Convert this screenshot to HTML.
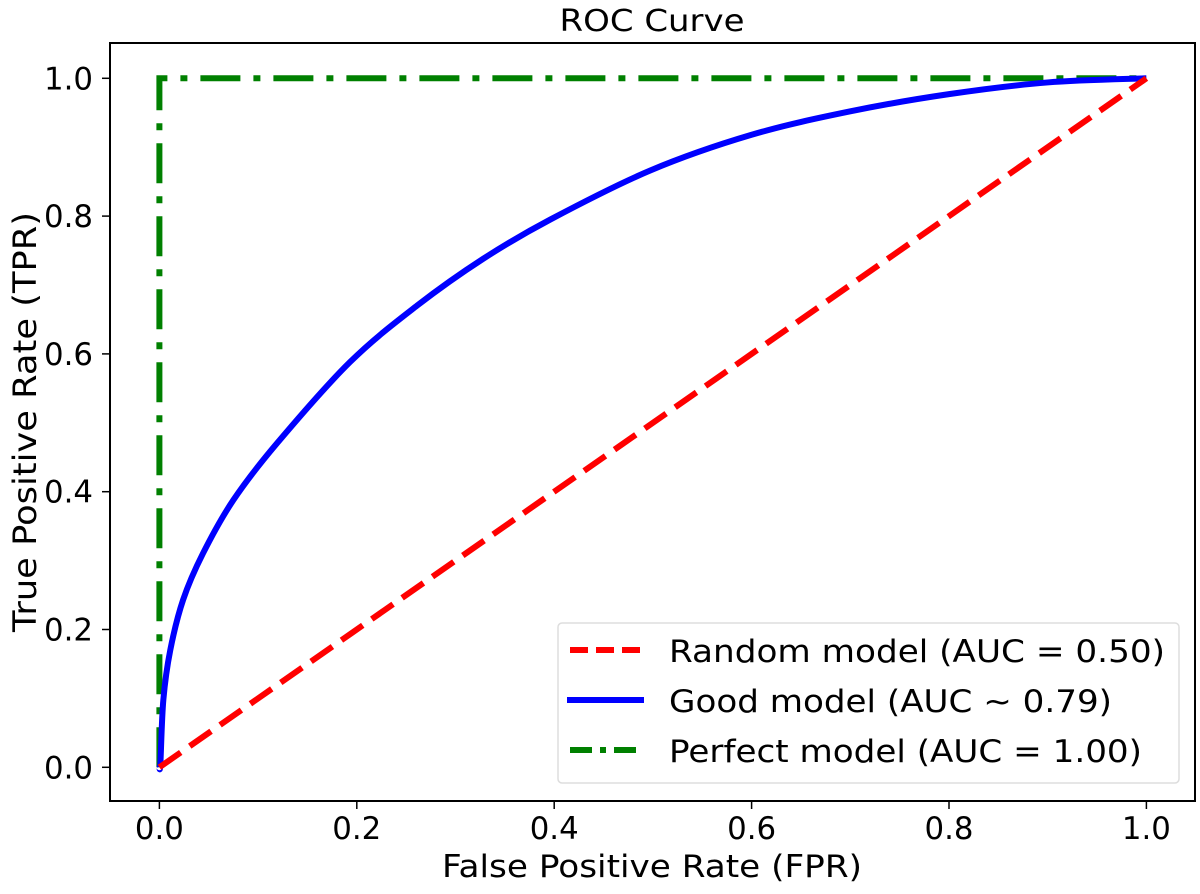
<!DOCTYPE html>
<html><head><meta charset="utf-8"><style>
html,body{margin:0;padding:0;background:#fff;}
svg text{font-family:"DejaVu Sans","Liberation Sans",sans-serif;fill:#000;}
</style></head><body>
<svg id="chart" width="1200" height="889" viewBox="0 0 1200 889" xmlns="http://www.w3.org/2000/svg">
<rect x="0" y="0" width="1200" height="889" fill="#fff"/>
<text x="652" y="31" font-size="30" text-anchor="middle" textLength="185" lengthAdjust="spacingAndGlyphs">ROC Curve</text>
<g id="plot"></g>
<rect x="110" y="43" width="1085" height="758" fill="none" stroke="#000" stroke-width="2"/>
<g id="ticks"></g>
<text x="652" y="877" font-size="31" text-anchor="middle" textLength="420" lengthAdjust="spacingAndGlyphs">False Positive Rate (FPR)</text>
<text x="0" y="0" font-size="32" text-anchor="middle" textLength="420" lengthAdjust="spacingAndGlyphs" transform="translate(36,422) rotate(-90)">True Positive Rate (TPR)</text>
<g>
<rect x="558" y="623" width="621" height="160" rx="4" fill="#fff" fill-opacity="0.8" stroke="#ddd" stroke-width="1.5"/>
<line x1="570" y1="650" x2="642" y2="650" stroke="#f00" stroke-width="6" stroke-dasharray="18,8"/>
<text x="669" y="662" font-size="31" textLength="496" lengthAdjust="spacingAndGlyphs">Random model (AUC = 0.50)</text>
<line x1="567" y1="700" x2="644" y2="700" stroke="#00f" stroke-width="6"/>
<text x="669" y="712" font-size="31" textLength="443" lengthAdjust="spacingAndGlyphs">Good model (AUC ~ 0.79)</text>
<line x1="570" y1="750" x2="642" y2="750" stroke="#008000" stroke-width="6" stroke-dasharray="22,8,6,8"/>
<text x="669" y="762" font-size="31" textLength="473" lengthAdjust="spacingAndGlyphs">Perfect model (AUC = 1.00)</text>
</g>
</svg>
<script>
const xTicks = [0, 0.2, 0.4, 0.6, 0.8, 1.0];
const yTicks = [0, 0.2, 0.4, 0.6, 0.8, 1.0];
const tickLabels = ["0.0", "0.2", "0.4", "0.6", "0.8", "1.0"];
const randomFpr = [0, 1];
const randomTpr = [0, 1];
const goodFpr = [0, 0.001, 0.004, 0.011, 0.024, 0.044, 0.075, 0.119, 0.193, 0.261, 0.328, 0.396, 0.497, 0.6, 0.7, 0.8, 0.9, 1.0];
const goodTpr = [0, 0.006, 0.098, 0.170, 0.243, 0.31, 0.388, 0.47, 0.588, 0.67, 0.738, 0.795, 0.866, 0.918, 0.952, 0.977, 0.994, 1.0];
const perfectFpr = [0, 0, 1];
const perfectTpr = [0, 1, 1];

const NS = "http://www.w3.org/2000/svg";
function xs(v){ return 159.4 + v * 987; }
function ys(v){ return 767.3 - v * 689; }
const plot = document.getElementById('plot');
const ticks = document.getElementById('ticks');

function mk(tag, attrs, parent){
  const e = document.createElementNS(NS, tag);
  for (const k in attrs) e.setAttribute(k, attrs[k]);
  parent.appendChild(e);
  return e;
}

xTicks.forEach((t, i) => {
  const l = mk('line', {x1: xs(t), x2: xs(t), y1: 801, y2: 809, stroke: '#000', 'stroke-width': 1.5}, ticks);
  
  
  const tx = mk('text', {x: xs(t), y: 839, 'font-size': 31, 'text-anchor': 'middle', textLength: 49, lengthAdjust: 'spacingAndGlyphs'}, ticks);
  tx.textContent = tickLabels[i];
  
  
});
yTicks.forEach((t, i) => {
  const l = mk('line', {x1: 102, x2: 110, y1: ys(t), y2: ys(t), stroke: '#000', 'stroke-width': 1.5}, ticks);
  
  
  const tx = mk('text', {x: 93, y: ys(t) + 11, 'font-size': 31, 'text-anchor': 'end', textLength: 49, lengthAdjust: 'spacingAndGlyphs'}, ticks);
  tx.textContent = tickLabels[i];
  
  
});

function smoothPath(X, Y){
  const p = X.map((x, i) => [xs(x), ys(Y[i])]);
  let d = 'M' + p[0][0] + ',' + p[0][1];
  for (let i = 0; i < p.length - 1; i++){
    const p0 = p[Math.max(0, i - 1)], p1 = p[i], p2 = p[i + 1], p3 = p[Math.min(p.length - 1, i + 2)];
    const c1 = [p1[0] + (p2[0] - p0[0]) / 6, p1[1] + (p2[1] - p0[1]) / 6];
    const c2 = [p2[0] - (p3[0] - p1[0]) / 6, p2[1] - (p3[1] - p1[1]) / 6];
    d += ' C' + c1 + ' ' + c2 + ' ' + p2;
  }
  return d;
}
function polyPts(X, Y){ return X.map((x, i) => xs(x) + ',' + ys(Y[i])).join(' '); }

const perfect = mk('polyline', {points: polyPts(perfectFpr, perfectTpr), fill: 'none', stroke: '#008000', 'stroke-width': 6, 'stroke-dasharray': '40,13,7,13'}, plot);



const good = mk('path', {d: smoothPath(goodFpr, goodTpr), fill: 'none', stroke: '#00f', 'stroke-width': 6}, plot);



const random = mk('polyline', {points: polyPts(randomFpr, randomTpr), fill: 'none', stroke: '#f00', 'stroke-width': 6, 'stroke-dasharray': '26,11'}, plot);


</script>
</body></html>
